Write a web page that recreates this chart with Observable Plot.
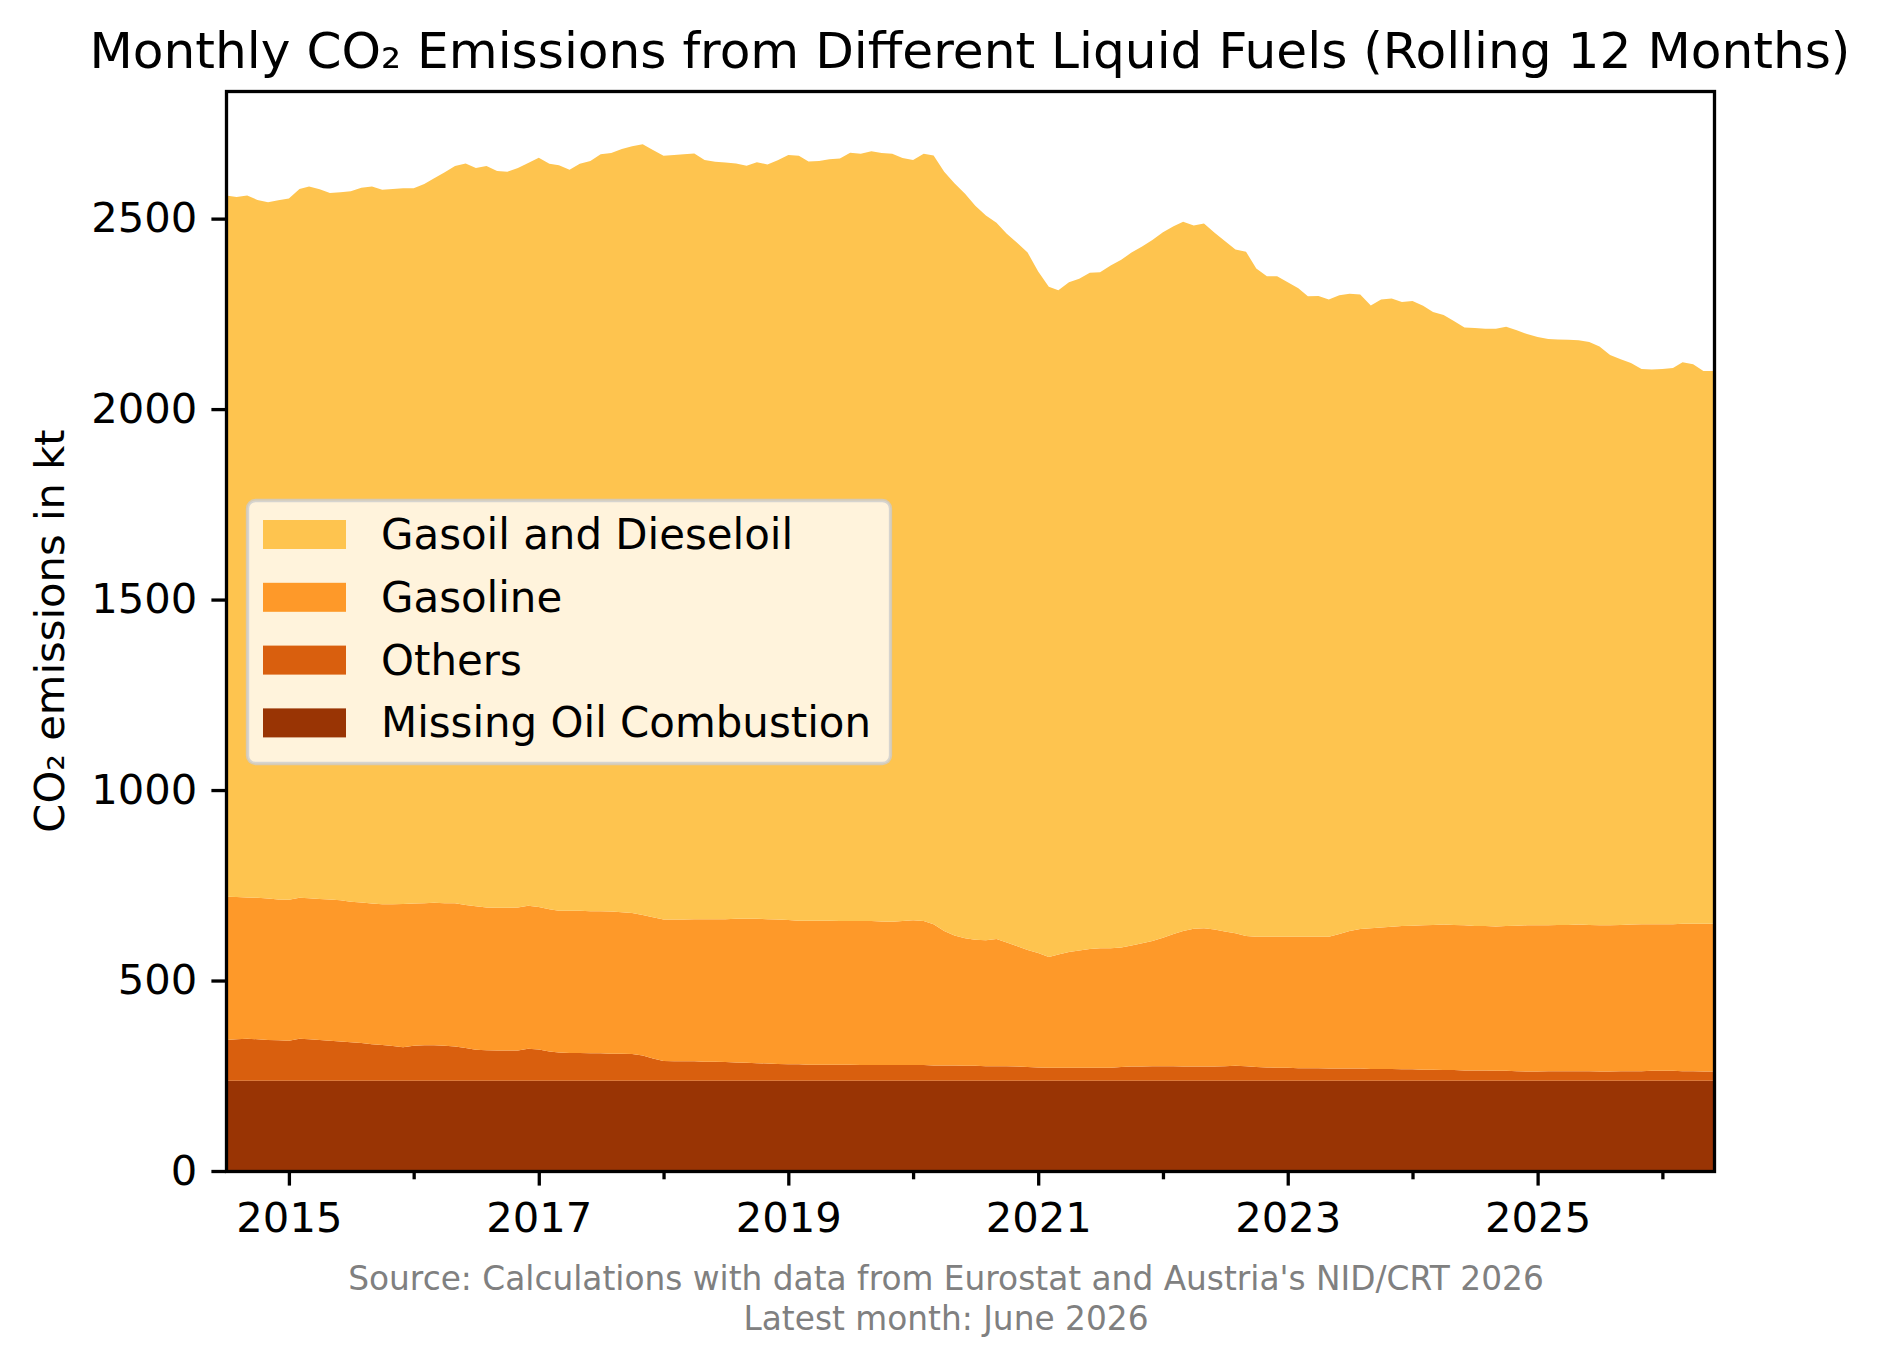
<!DOCTYPE html>
<html>
<head>
<meta charset="utf-8">
<script src="https://cdn.jsdelivr.net/npm/d3@7"></script>
<script src="https://cdn.jsdelivr.net/npm/@observablehq/plot@0.6"></script>
<style>
  body { margin: 0; background: #ffffff; }
  #chart svg { display: block; }
</style>
</head>
<body>
<div id="chart"></div>
<script>
// ---- Data (kt CO2, rolling 12 months, monthly from Jul 2014 to Jun 2026) ----
const seriesNames = ["Missing Oil Combustion", "Others", "Gasoline", "Gasoil and Dieseloil"];
const seriesColors = ["#993404", "#d95f0e", "#fe9929", "#fec44f"];
const legendOrder = ["Gasoil and Dieseloil", "Gasoline", "Others", "Missing Oil Combustion"];

const missing = [
  237,237,237,237,237,237,237,237,237,237,237,237,
  237,237,237,237,237,237,237,237,237,237,237,237,
  237,237,237,237,237,237,237,237,237,237,237,237,
  237,237,237,237,237,237,237,237,237,237,237,237,
  237,237,237,237,237,237,237,237,237,237,237,237,
  237,237,237,237,237,237,237,237,237,237,237,237,
  237,237,237,237,237,237,237,237,237,237,237,237,
  237,237,237,237,237,237,237,237,237,237,237,237,
  237,237,237,237,237,237,237,237,237,237,237,237,
  237,237,237,237,237,237,237,237,237,237,237,237,
  237,237,237,237,237,237,237,237,237,237,237,237,
  237,237,237,237,237,237,237,237,237,237,237,237
];
const others = [
  107,109,110,109,107,106,105,110,109,107,105,103,
  101,99,96,94,91,88,92,93,93,92,90,86,
  81,80,79,79,79,84,82,77,74,73,73,72,
  72,71,71,70,66,58,52,51,51,51,50,50,
  49,48,47,46,45,44,43,43,42,42,42,42,
  42,41,41,41,41,41,41,41,40,40,40,39,
  39,38,38,38,37,36,35,34,34,34,34,34,
  34,34,36,37,37,38,38,38,37,37,37,37,
  38,39,38,36,35,34,34,33,33,33,32,32,
  32,32,31,31,31,30,30,29,29,28,28,27,
  27,27,26,26,25,24,24,25,25,25,25,25,
  24,24,25,25,25,26,26,26,25,25,24,24
];
const gasoline = [
  376,373,371,371,371,370,370,370,370,370,371,371,
  369,369,369,369,372,376,373,373,374,374,376,375,
  377,375,375,375,376,375,374,373,372,373,373,373,
  373,373,371,370,369,371,371,372,372,373,374,374,
  375,377,378,379,379,379,379,377,378,378,378,377,
  377,378,378,377,376,378,380,378,371,353,341,335,
  331,331,334,325,316,307,300,291,297,304,308,312,
  314,314,314,318,324,329,337,347,356,362,363,360,
  354,348,342,342,343,344,344,345,345,345,346,353,
  361,366,369,371,373,376,377,379,380,382,381,381,
  379,379,379,380,382,384,384,383,384,384,385,384,
  384,384,384,385,386,385,385,385,387,387,388,388
];
const gasoil = [
  1841,1838,1843,1832,1828,1835,1841,1861,1868,1863,1854,1858,
  1865,1876,1882,1876,1878,1879,1878,1888,1902,1919,1935,1947,
  1938,1946,1934,1932,1941,1950,1967,1957,1957,1945,1961,1969,
  1987,1991,2004,2013,2023,2014,2005,2007,2009,2010,1993,1988,
  1986,1983,1977,1986,1981,1993,2008,2008,1993,1994,1999,2002,
  2017,2014,2021,2017,2016,2003,1996,2014,2018,1993,1975,1954,
  1927,1902,1880,1860,1846,1831,1789,1759,1744,1758,1763,1775,
  1774,1792,1805,1819,1829,1840,1852,1858,1862,1846,1850,1829,
  1812,1795,1796,1754,1734,1734,1718,1702,1681,1682,1673,1677,
  1673,1666,1635,1649,1649,1638,1640,1626,1609,1600,1585,1569,
  1570,1568,1569,1573,1563,1552,1544,1539,1537,1536,1534,1530,
  1519,1497,1485,1474,1457,1456,1457,1460,1474,1469,1451,1451
];

const yTicks = [0, 500, 1000, 1500, 2000, 2500];
const majorYears = [2015, 2017, 2019, 2021, 2023, 2025];
const minorYears = [2016, 2018, 2020, 2022, 2024, 2026];

const titleText = "Monthly CO\u2082 Emissions from Different Liquid Fuels (Rolling 12 Months)";
const yLabelText = "CO\u2082 emissions in kt";
const captionLines = [
  "Source: Calculations with data from Eurostat and Austria's NID/CRT 2026",
  "Latest month: June 2026"
];

// ---- Build tidy table ----
const months = d3.utcMonth.range(new Date(Date.UTC(2014, 6, 1)), new Date(Date.UTC(2026, 6, 1)));
const seriesValues = [missing, others, gasoline, gasoil];
const rows = seriesNames.flatMap((name, s) =>
  months.map((date, i) => ({date, series: name, value: seriesValues[s][i]})));

const majorDates = majorYears.map(y => new Date(Date.UTC(y, 0, 1)));
const minorDates = minorYears.map(y => new Date(Date.UTC(y, 0, 1)));

const FONT = "'DejaVu Sans', 'Liberation Sans', sans-serif";
const W = 1883, H = 1372;
const mL = 226, mR = 169, mT = 91, mB = 201;

const svgNode = Plot.plot({
  width: W,
  height: H,
  marginLeft: mL,
  marginRight: mR,
  marginTop: mT,
  marginBottom: mB,
  style: {fontFamily: FONT, fontSize: "41.7px", background: "#ffffff", color: "#000000", overflow: "visible"},
  x: {type: "utc", domain: [months[0], months[months.length - 1]], label: null},
  y: {domain: [0, 2835], label: null},
  color: {domain: seriesNames, range: seriesColors},
  marks: [
    Plot.areaY(rows, {x: "date", y: "value", z: "series", fill: "series", order: seriesNames}),
    Plot.axisY({ticks: yTicks, tickSize: 14.6, tickPadding: 14.6, strokeWidth: 3.3, fontSize: 41.7, label: null, tickFormat: d => String(d)}),
    Plot.axisX({ticks: majorDates, tickSize: 14.6, tickPadding: 16, strokeWidth: 3.3, fontSize: 41.7, label: null, tickFormat: d3.utcFormat("%Y")}),
    Plot.axisX({ticks: minorDates, tickSize: 8.3, tickPadding: 0, strokeWidth: 3.3, label: null, tickFormat: () => ""}),
    Plot.frame({stroke: "#000000", strokeWidth: 3.3})
  ]
});

document.getElementById("chart").appendChild(svgNode);
const svg = d3.select(svgNode);

// Title
svg.append("text")
  .attr("x", (mL + (W - mR)) / 2)
  .attr("y", 68)
  .attr("text-anchor", "middle")
  .attr("font-family", FONT)
  .attr("font-size", 50.2)
  .attr("fill", "#000000")
  .text(titleText);

// Y axis label
svg.append("text")
  .attr("transform", `translate(64,${(mT + (H - mB)) / 2}) rotate(-90)`)
  .attr("text-anchor", "middle")
  .attr("font-family", FONT)
  .attr("font-size", 41.7)
  .attr("fill", "#000000")
  .text(yLabelText);

// Caption
captionLines.forEach((line, k) => {
  svg.append("text")
    .attr("x", 946)
    .attr("y", 1290 + k * 40)
    .attr("text-anchor", "middle")
    .attr("font-family", FONT)
    .attr("font-size", 32.8)
    .attr("fill", "#808080")
    .text(line);
});

// Legend (inside plot, matplotlib style)
const lg = svg.append("g").attr("transform", "translate(246,499)");
lg.append("rect")
  .attr("x", 1.5).attr("y", 1.5)
  .attr("width", 643).attr("height", 263)
  .attr("rx", 8).attr("ry", 8)
  .attr("fill", "#ffffff").attr("fill-opacity", 0.8)
  .attr("stroke", "#cccccc").attr("stroke-opacity", 0.8).attr("stroke-width", 3.3);
legendOrder.forEach((name, k) => {
  const color = seriesColors[seriesNames.indexOf(name)];
  const top = 21 + k * 62.8;
  lg.append("rect")
    .attr("x", 17).attr("y", top)
    .attr("width", 83).attr("height", 29)
    .attr("fill", color);
  lg.append("text")
    .attr("x", 135).attr("y", top + 29)
    .attr("text-anchor", "start")
    .attr("font-family", FONT)
    .attr("font-size", 41.9)
    .attr("fill", "#000000")
    .text(name);
});
</script>
</body>
</html>
